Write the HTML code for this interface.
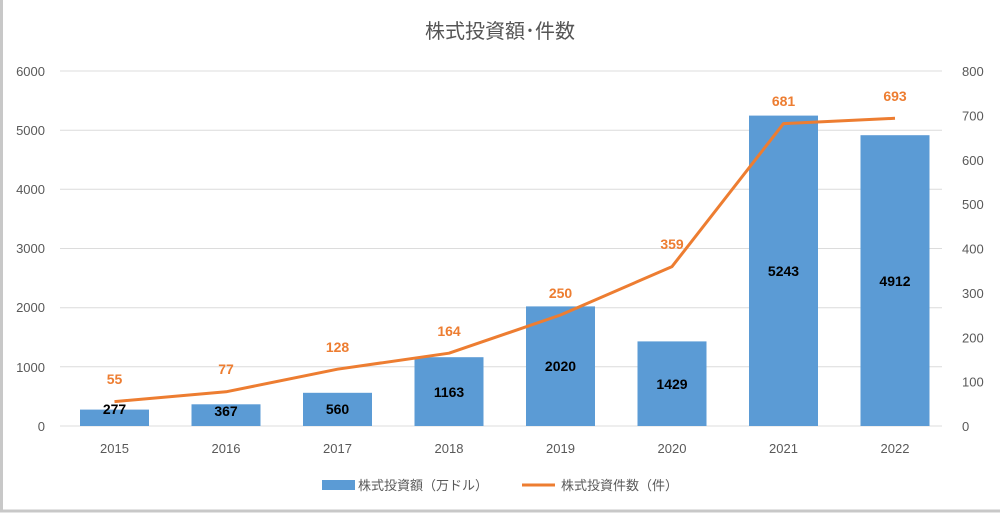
<!DOCTYPE html>
<html><head><meta charset="utf-8"><style>
body{margin:0;background:#fff}
svg{display:block}
text{font-family:"Liberation Sans","Noto Sans CJK JP",sans-serif}
</style></head><body>
<svg width="1000" height="514" viewBox="0 0 1000 514">
<rect x="0" y="0" width="1000" height="514" fill="#fff"/>
<rect x="1.5" y="-2" width="1000" height="513" fill="none" stroke="#c8c8c8" stroke-width="3"/>
<text x="500" y="38" font-size="20" fill="#555" text-anchor="middle">株式投資額･件数</text>
<g stroke="#dcdcdc" stroke-width="1">
<line x1="60" x2="942" y1="71" y2="71"/><line x1="60" x2="942" y1="130.2" y2="130.2"/>
<line x1="60" x2="942" y1="189.3" y2="189.3"/><line x1="60" x2="942" y1="248.5" y2="248.5"/>
<line x1="60" x2="942" y1="307.7" y2="307.7"/><line x1="60" x2="942" y1="366.8" y2="366.8"/>
<line x1="60" x2="942" y1="426" y2="426"/>
</g>
<g font-size="13" fill="#595959" text-anchor="end">
<text x="45" y="76">6000</text><text x="45" y="135">5000</text><text x="45" y="194">4000</text>
<text x="45" y="253">3000</text><text x="45" y="312">2000</text><text x="45" y="372">1000</text><text x="45" y="431">0</text>
</g>
<g font-size="13" fill="#595959" text-anchor="start">
<text x="962" y="76">800</text><text x="962" y="120.4">700</text><text x="962" y="164.8">600</text>
<text x="962" y="209.1">500</text><text x="962" y="253.5">400</text><text x="962" y="297.9">300</text>
<text x="962" y="342.3">200</text><text x="962" y="386.6">100</text><text x="962" y="431">0</text>
</g>
<g fill="#5b9bd5">
<rect x="80" y="409.6" width="69" height="16.4"/>
<rect x="191.5" y="404.3" width="69" height="21.7"/>
<rect x="303" y="392.8" width="69" height="33.2"/>
<rect x="414.5" y="357.2" width="69" height="68.8"/>
<rect x="526" y="306.4" width="69" height="119.6"/>
<rect x="637.5" y="341.4" width="69" height="84.6"/>
<rect x="749" y="115.6" width="69" height="310.4"/>
<rect x="860.5" y="135.2" width="69" height="290.8"/>
</g>
<polyline fill="none" stroke="#ed7d31" stroke-width="3" stroke-linejoin="round" points="114.5,401.6 226,391.8 337.5,369.2 449,353.2 560.5,315 672,266.6 783.5,123.6 895,118.3"/>
<g font-size="14" font-weight="bold" fill="#000" text-anchor="middle">
<text x="114.5" y="414">277</text><text x="226" y="416">367</text><text x="337.5" y="414">560</text>
<text x="449" y="397">1163</text><text x="560.5" y="371">2020</text><text x="672" y="389">1429</text>
<text x="783.5" y="276">5243</text><text x="895" y="286">4912</text>
</g>
<g font-size="14" font-weight="bold" fill="#ed7d31" text-anchor="middle">
<text x="114.5" y="384">55</text><text x="226" y="374">77</text><text x="337.5" y="352">128</text>
<text x="449" y="336">164</text><text x="560.5" y="298">250</text><text x="672" y="249">359</text>
<text x="783.5" y="106">681</text><text x="895" y="101">693</text>
</g>
<g font-size="13" fill="#595959" text-anchor="middle">
<text x="114.5" y="453">2015</text><text x="226" y="453">2016</text><text x="337.5" y="453">2017</text>
<text x="449" y="453">2018</text><text x="560.5" y="453">2019</text><text x="672" y="453">2020</text>
<text x="783.5" y="453">2021</text><text x="895" y="453">2022</text>
</g>
<rect x="322" y="480" width="33" height="10" fill="#5b9bd5"/>
<text x="358" y="490" font-size="13" fill="#595959">株式投資額（万ドル）</text>
<line x1="522" x2="555" y1="485" y2="485" stroke="#ed7d31" stroke-width="3"/>
<text x="561" y="490" font-size="13" fill="#595959">株式投資件数（件）</text>
</svg>
</body></html>
